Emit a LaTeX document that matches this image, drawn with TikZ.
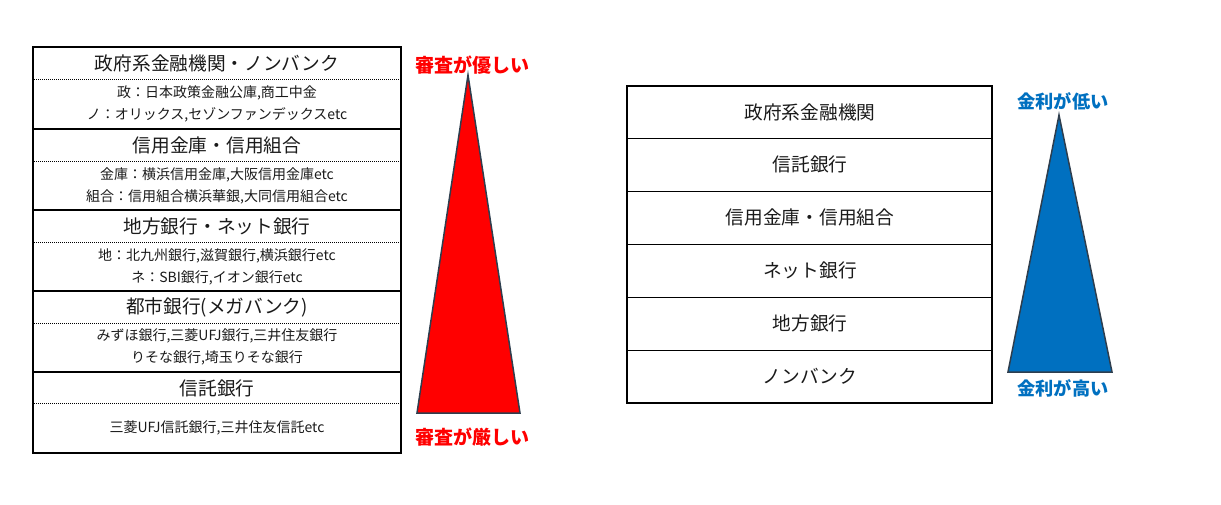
\documentclass[tikz,border=0pt]{standalone}
\usepackage{fontspec}
\setmainfont{Noto Sans CJK JP}
\usetikzlibrary{positioning}

\definecolor{redfill}{HTML}{FF0000}
\definecolor{bluefill}{HTML}{0070C0}
\definecolor{edgegray}{HTML}{2E3E4E}
\definecolor{textgray}{HTML}{1A1A1A}

\tikzset{
  frame/.style={line width=2pt, black},
  thinrule/.style={line width=1pt, black},
  dotrule/.style={line width=0.9pt, black, dash pattern=on 1pt off 1pt},
  head/.style={inner sep=0pt, text=textgray, font=\fontsize{18.7}{18.7}\selectfont},
  sub/.style={inner sep=0pt, text=textgray, align=center, font=\fontsize{14}{22}\selectfont},
  tri/.style={line width=1.5pt, draw=edgegray, line join=miter},
  redlabel/.style={inner sep=0pt, text=redfill, font=\fontsize{19}{19}\selectfont\bfseries},
  bluelabel/.style={inner sep=0pt, text=bluefill, font=\fontsize{18.2}{18.2}\selectfont\bfseries}
}

\begin{document}
\begin{tikzpicture}[x=1pt,y=-1pt]
  \useasboundingbox (0,0) rectangle (1221,504);

  % left table
  \draw[frame] (33,47) rectangle (401,453);
  \foreach \y in {129,210,291,372} \draw[frame] (33,\y) -- (401,\y);
  \foreach \y in {79,161,242,323,403} \draw[dotrule] (34,\y) -- (400,\y);

  \node[head] (govnon) at (217,63) {政府系金融機関・ノンバンク};
  \node[sub] (govnonsub) at (217,104) {政：日本政策金融公庫,商工中金\\ノ：オリックス,セゾンファンデックスetc};
  \node[head] (shinkin) at (217,145) {信用金庫・信用組合};
  \node[sub] (shinkinsub) at (217,186) {金庫：横浜信用金庫,大阪信用金庫etc\\組合：信用組合横浜華銀,大同信用組合etc};
  \node[head] (chiho) at (217,226) {地方銀行・ネット銀行};
  \node[sub] (chihosub) at (217,267) {地：北九州銀行,滋賀銀行,横浜銀行etc\\ネ：SBI銀行,イオン銀行etc};
  \node[head] (toshi) at (217,307) {都市銀行(メガバンク)};
  \node[sub] (toshisub) at (217,347) {みずほ銀行,三菱UFJ銀行,三井住友銀行\\りそな銀行,埼玉りそな銀行};
  \node[head] (shintaku) at (217,388) {信託銀行};
  \node[sub] (shintakusub) at (217,428) {三菱UFJ信託銀行,三井住友信託etc};

  % red triangle
  \draw[tri, fill=redfill] (468,75) -- (520,413) -- (417,413) -- cycle;
  \node[redlabel] (easy) at (472,65) {審査が優しい};
  \node[redlabel] (strict) at (472,437) {審査が厳しい};

  % right table
  \draw[thinrule, line width=1.4pt] (627,86) rectangle (992,403);
  \foreach \y in {138,191,244,297,350} \draw[thinrule] (627,\y) -- (992,\y);

  \node[head] (rgov) at (810,112) {政府系金融機関};
  \node[head] (rtrust) at (810,164.5) {信託銀行};
  \node[head] (rshinkin) at (810,217.5) {信用金庫・信用組合};
  \node[head] (rnet) at (810,270.5) {ネット銀行};
  \node[head] (rchiho) at (810,323.5) {地方銀行};
  \node[head] (rnonbank) at (810,376.5) {ノンバンク};

  % blue triangle
  \draw[tri, fill=bluefill] (1059,115) -- (1112,372) -- (1008,372) -- cycle;
  \node[bluelabel] (lowrate) at (1063,101) {金利が低い};
  \node[bluelabel] (highrate) at (1063,388) {金利が高い};
\end{tikzpicture}
\end{document}
